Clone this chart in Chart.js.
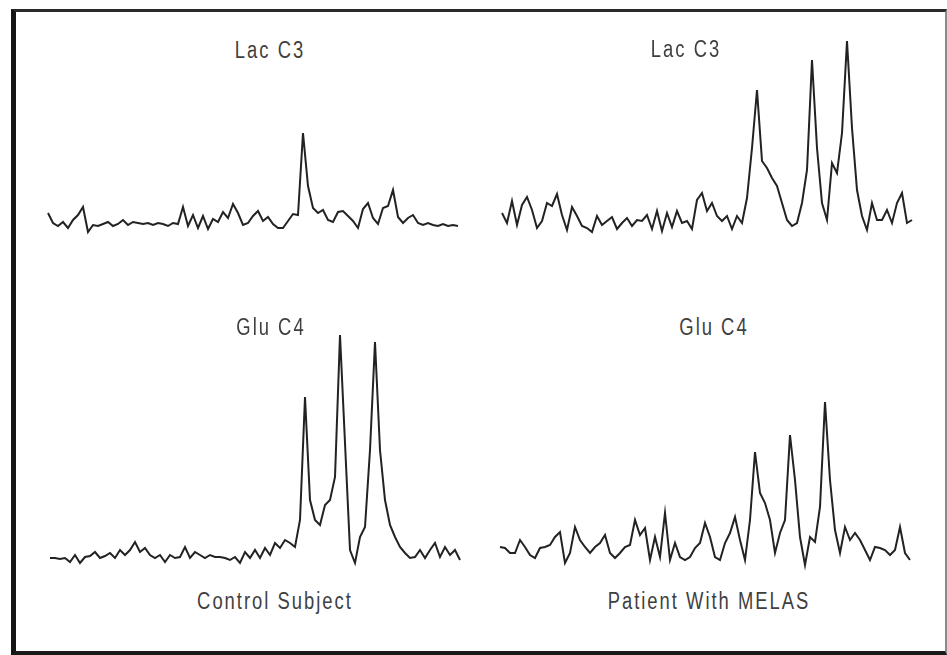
<!DOCTYPE html>
<html>
<head>
<meta charset="utf-8">
<script src="https://cdn.jsdelivr.net/npm/chart.js@4/dist/chart.umd.min.js"></script>
<style>
  html, body { margin: 0; padding: 0; background: #fff; }
  #stage { position: relative; width: 947px; height: 655px; overflow: hidden; background: #fff; }
  #frame {
    position: absolute; left: 11px; top: 9px; width: 929px; height: 639px;
    border-left: 5px solid #151515; border-top: 3px solid #2a2a2a;
    border-bottom: 4px solid #1a1a1a; border-right: 2px solid #8a8a8a;
  }
  .spec { position: absolute; }
  .lbl {
    position: absolute; transform: translate(-50%, -50%) scaleX(0.8); white-space: nowrap;
    font-family: "Liberation Sans", Arial, sans-serif;
    font-size: 23px; color: #3f3f3f; letter-spacing: 2.5px;
  }
</style>
</head>
<body>
<div id="stage">
  <div id="frame"></div>
  <canvas id="c0" class="spec"></canvas>
  <canvas id="c1" class="spec"></canvas>
  <canvas id="c2" class="spec"></canvas>
  <canvas id="c3" class="spec"></canvas>
  <div class="lbl" style="left:270px; top:50px;">Lac C3</div>
  <div class="lbl" style="left:686px; top:49px;">Lac C3</div>
  <div class="lbl" style="left:271px; top:327px;">Glu C4</div>
  <div class="lbl" style="left:714px; top:327px;">Glu C4</div>
  <div class="lbl" style="left:275px; top:601px;">Control Subject</div>
  <div class="lbl" style="left:709px; top:601px;">Patient With MELAS</div>
</div>
<script>
// 13C spectra, intensity in arbitrary units (baseline = 0), equally spaced points.
const controlLacC3 = [13, 3, 0, 4, -2, 6, 11, 19, -6, 1, 0, 2, 4, 0, 2, 6, 1, 4, 3, 2,
  3, 1, 3, 2, 0, 3, 2, 19, 0, 11, -2, 10, -3, 7, 4, 14, 8, 22, 13, 1,
  3, 10, 15, 5, 9, 2, -2, -2, 5, 12, 11, 93, 40, 18, 13, 16, 6, 4, 14, 15,
  10, 5, -2, 17, 23, 8, 2, 18, 20, 36, 9, 3, 8, 11, 3, 1, 3, 1, 0, 2,
  0, 1, 0];

const melasLacC3 = [10, 0, 22, -2, 18, 26, 13, -5, 2, 20, 17, 29, 8, -7, 16, 7, -3, -5, -9, 7,
  -2, 2, 6, -6, 0, 5, -3, 3, 2, 8, -6, 12, -8, 10, -4, 12, 0, 2, -6, 23,
  30, 12, 20, 7, 2, 7, -6, 7, 0, 25, 75, 133, 62, 55, 45, 37, 20, 3, -3, 0,
  20, 53, 163, 75, 20, 3, 60, 50, 90, 182, 95, 33, 7, -7, 20, 3, 3, 13, 0, 20,
  30, 0, 3];

const controlGluC4 = [2, 2, 1, 2, -2, 5, -3, 3, 4, 8, 2, 4, 7, 2, 10, 5, 10, 18, 8, 12,
  5, 2, 5, -2, 5, 2, 3, 13, 2, 8, 5, 2, 5, 3, 3, 2, 0, 3, -3, 8,
  2, 10, 2, 12, 5, 17, 12, 20, 17, 13, 40, 163, 60, 40, 35, 55, 60, 83, 225, 117,
  10, -3, 23, 33, 110, 218, 110, 60, 35, 23, 13, 7, 2, 3, 10, 2, 10, 17, 3, 13,
  5, 10, 0];

const melasGluC4 = [3, 2, -3, -3, 10, 3, -5, -8, 2, 3, 5, 13, 18, -13, -3, 23, 10, 3, -3, 3,
  7, 15, -3, -8, -3, 3, 5, 30, 15, 22, -10, 13, -7, 37, -10, 7, -7, -10, -7, 2,
  7, 27, 13, -7, -10, 7, 17, 33, 10, -10, 30, 98, 57, 47, 30, -3, 17, 30, 115, 70,
  13, -15, 13, 8, 43, 148, 70, 20, -3, 23, 10, 17, 10, 0, -10, 3, 2, 0, -5, 0,
  23, -3, -10];

// Placement of each spectrum on the page: plot box + vertical range.
const PAD = 4;
const panels = [
  { id: 'c0', data: controlLacC3, left: 48,  top: 116, width: 410, height: 130, min: -20, max: 110 },
  { id: 'c1', data: melasLacC3,   left: 502, top: 23,  width: 410, height: 220, min: -20, max: 200 },
  { id: 'c2', data: controlGluC4, left: 50,  top: 320, width: 410, height: 260, min: -20, max: 240 },
  { id: 'c3', data: melasGluC4,   left: 500, top: 390, width: 410, height: 180, min: -20, max: 160 }
];

panels.forEach(p => {
  const cv = document.getElementById(p.id);
  cv.width = p.width + 2 * PAD;
  cv.height = p.height + 2 * PAD;
  cv.style.left = (p.left - PAD) + 'px';
  cv.style.top = (p.top - PAD) + 'px';
  cv.style.width = cv.width + 'px';
  cv.style.height = cv.height + 'px';
  new Chart(cv, {
    type: 'line',
    data: {
      labels: p.data.map((_, i) => i),
      datasets: [{
        data: p.data,
        borderColor: '#222222',
        borderWidth: 2,
        pointRadius: 0,
        tension: 0,
        fill: false,
        clip: false
      }]
    },
    options: {
      responsive: false,
      animation: false,
      devicePixelRatio: 1,
      layout: { padding: PAD },
      plugins: { legend: { display: false }, tooltip: { enabled: false }, title: { display: false } },
      scales: {
        x: { display: false, offset: false },
        y: { display: false, min: p.min, max: p.max }
      }
    }
  });
});
</script>
</body>
</html>
